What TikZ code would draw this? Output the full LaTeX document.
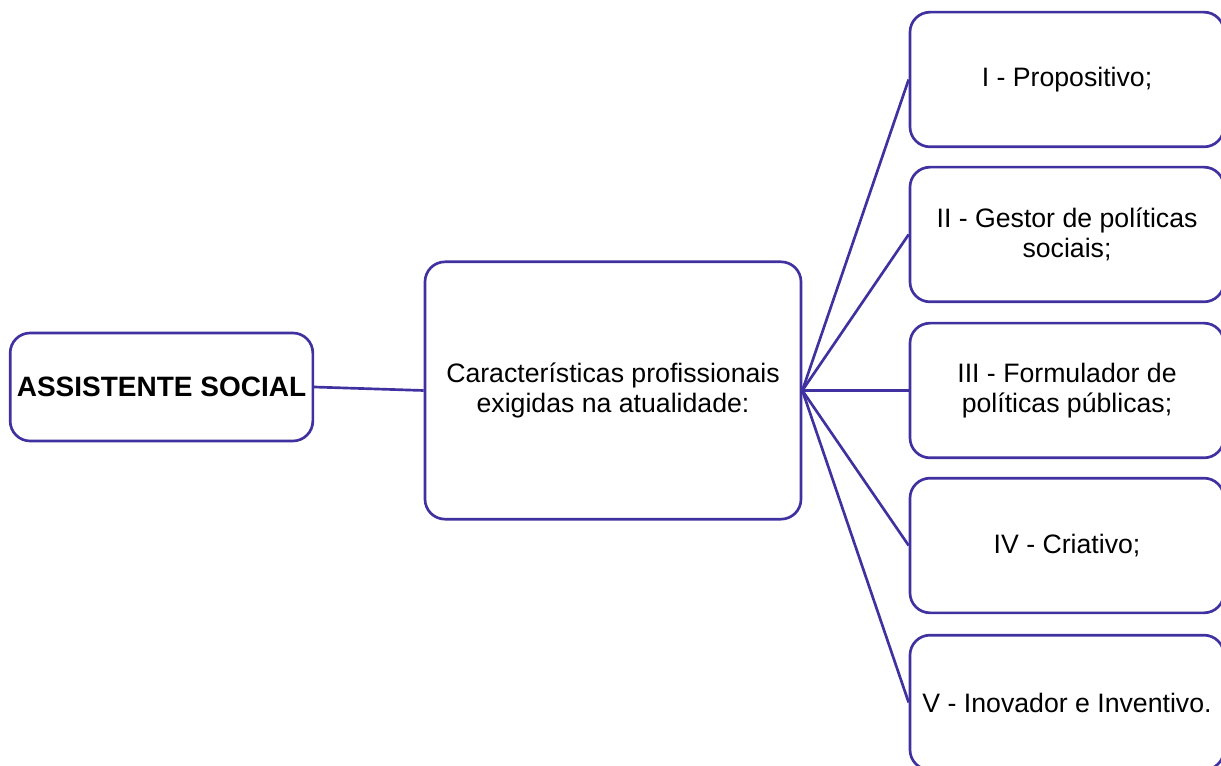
\documentclass[tikz,border=0pt]{standalone}
\usepackage{fontspec}
\setmainfont{Liberation Sans}
\usetikzlibrary{calc}

\definecolor{linha}{RGB}{64,49,160}

\begin{document}
\begin{tikzpicture}[x=0.75pt, y=-0.75pt,
  caixa/.style={draw=linha, line width=2pt, rounded corners=15pt, inner sep=0pt,
    align=center, font=\fontsize{20}{23}\selectfont},
  ramo/.style={draw=linha, line width=2pt}]
  \useasboundingbox (0,0) rectangle (1221,766);
  \clip (0,0) rectangle (1221,766);

  % Draw the main box and the middle box
  \node[caixa, minimum width=227pt, minimum height=81pt, font=\fontsize{21}{24}\selectfont\bfseries]
    (as) at (161.5,387) {ASSISTENTE SOCIAL};
  \node[caixa, minimum width=282pt, minimum height=193pt]
    (ch) at (613,390.5) {Características profissionais\\exigidas na atualidade:};

  % Draw the five characteristics on the right
  \node[caixa, minimum width=235.5pt, minimum height=101pt] (c1) at (1067,79.5) {I - Propositivo;};
  \node[caixa, minimum width=235.5pt, minimum height=101pt] (c2) at (1067,234.5) {II - Gestor de políticas\\sociais;};
  \node[caixa, minimum width=235.5pt, minimum height=101pt] (c3) at (1067,390.5) {III - Formulador de\\políticas públicas;};
  \node[caixa, minimum width=235.5pt, minimum height=101pt] (c4) at (1067,545.5) {IV - Criativo;};
  \node[caixa, minimum width=235.5pt, minimum height=101pt] (c5) at (1067,702.5) {V - Inovador e Inventivo.};

  % Draw the connectors
  \draw[ramo] (as.east) -- (ch.west);
  \foreach \k in {1,...,5}
    \draw[ramo] (ch.east) -- (c\k.west);
\end{tikzpicture}
\end{document}
